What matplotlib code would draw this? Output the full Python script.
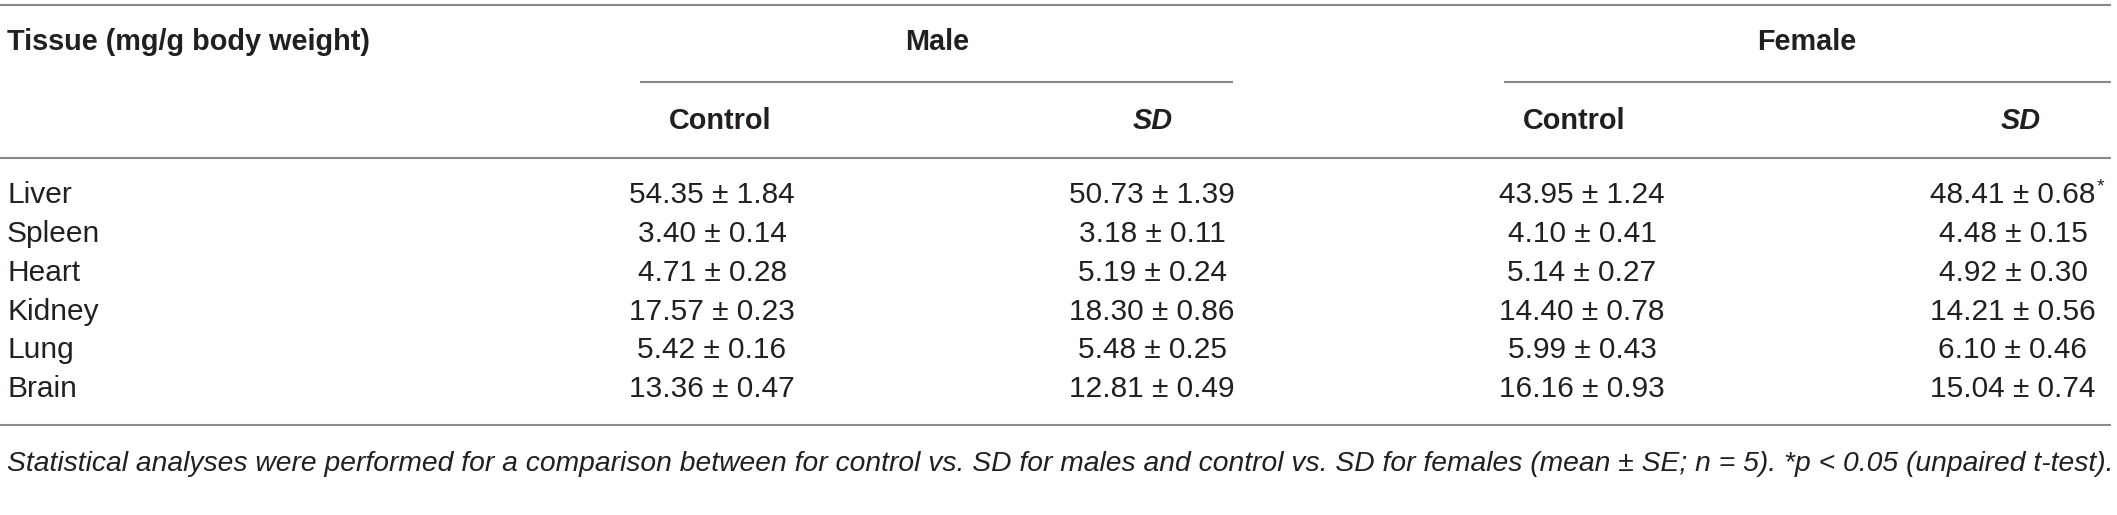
import matplotlib
matplotlib.use("Agg")
import matplotlib.pyplot as plt

# ---- data ----
tissues = ["Liver", "Spleen", "Heart", "Kidney", "Lung", "Brain"]
groups = ["Male", "Female"]
subgroups = ["Control", "SD"]
male_control_mean = [54.35, 3.40, 4.71, 17.57, 5.42, 13.36]
male_control_se = [1.84, 0.14, 0.28, 0.23, 0.16, 0.47]
male_sd_mean = [50.73, 3.18, 5.19, 18.30, 5.48, 12.81]
male_sd_se = [1.39, 0.11, 0.24, 0.86, 0.25, 0.49]
female_control_mean = [43.95, 4.10, 5.14, 14.40, 5.99, 16.16]
female_control_se = [1.24, 0.41, 0.27, 0.78, 0.43, 0.93]
female_sd_mean = [48.41, 4.48, 4.92, 14.21, 6.10, 15.04]
female_sd_se = [0.68, 0.15, 0.30, 0.56, 0.46, 0.74]
female_sd_signif = ["*", "", "", "", "", ""]
header_first = "Tissue (mg/g body weight)"
footnote = ("Statistical analyses were performed for a comparison between for control vs. SD "
            "for males and control vs. SD for females (mean \u00b1 SE; n = 5). *p < 0.05 (unpaired t-test).")

W, H = 2117, 515
fig = plt.figure(figsize=(W / 100, H / 100), dpi=100)
ax = fig.add_axes([0, 0, 1, 1])
ax.set_xlim(0, W)
ax.set_ylim(H, 0)
ax.axis("off")

FONT = "Liberation Sans"
TXT = "#231f20"
LINE = "#8a8a8a"
LW = 1.5

# rules
for y in (5, 158, 425):
    ax.plot([0, 2111], [y, y], color=LINE, lw=LW, solid_capstyle="butt")
ax.plot([640, 1233], [82, 82], color=LINE, lw=LW, solid_capstyle="butt")
ax.plot([1504, 2111], [82, 82], color=LINE, lw=LW, solid_capstyle="butt")

# headers
ax.text(7, 42, header_first, fontsize=20.8, fontweight="bold", family=FONT,
        color=TXT, ha="left", va="center")
for g, xc in zip(groups, [937, 1807]):
    ax.text(xc, 42, g, fontsize=20.8, fontweight="bold", family=FONT,
            color=TXT, ha="center", va="center")
sub_x = [720, 1153, 1574, 2021]
for i, xc in enumerate(sub_x):
    s = subgroups[i % 2]
    ax.text(xc, 121, s, fontsize=20.8, fontweight="bold", family=FONT, color=TXT,
            ha="center", va="center", style="italic" if s == "SD" else "normal")

# body
row_y = [195, 234, 273, 312, 350, 389]
col_x = [712, 1152, 1582, 2013]
cols = [(male_control_mean, male_control_se), (male_sd_mean, male_sd_se),
        (female_control_mean, female_control_se), (female_sd_mean, female_sd_se)]

fig.canvas.draw()
renderer = fig.canvas.get_renderer()

BODY = 21.5
for r, t in enumerate(tissues):
    ax.text(7, row_y[r], t, fontsize=BODY, family=FONT, color=TXT, ha="left", va="center")
    for c, (m, se) in enumerate(cols):
        txt = ax.text(col_x[c], row_y[r], f"{m[r]:.2f} \u00b1 {se[r]:.2f}", fontsize=BODY,
                      family=FONT, color=TXT, ha="center", va="center")
        if c == 3 and female_sd_signif[r]:
            bb = txt.get_window_extent(renderer=renderer)
            x_end = ax.transData.inverted().transform((bb.x1, bb.y1))[0]
            ax.text(x_end + 1, row_y[r] - 8, female_sd_signif[r], fontsize=14,
                    family=FONT, color=TXT, ha="left", va="center")

# footnote, fitted to table width
fn = ax.text(7, 464, footnote, fontsize=20, family=FONT, style="italic", color=TXT,
             ha="left", va="center")
bb = fn.get_window_extent(renderer=renderer)
target = 2100
fn.set_fontsize(20 * target / bb.width)

fig.savefig("out.png", dpi=100)
